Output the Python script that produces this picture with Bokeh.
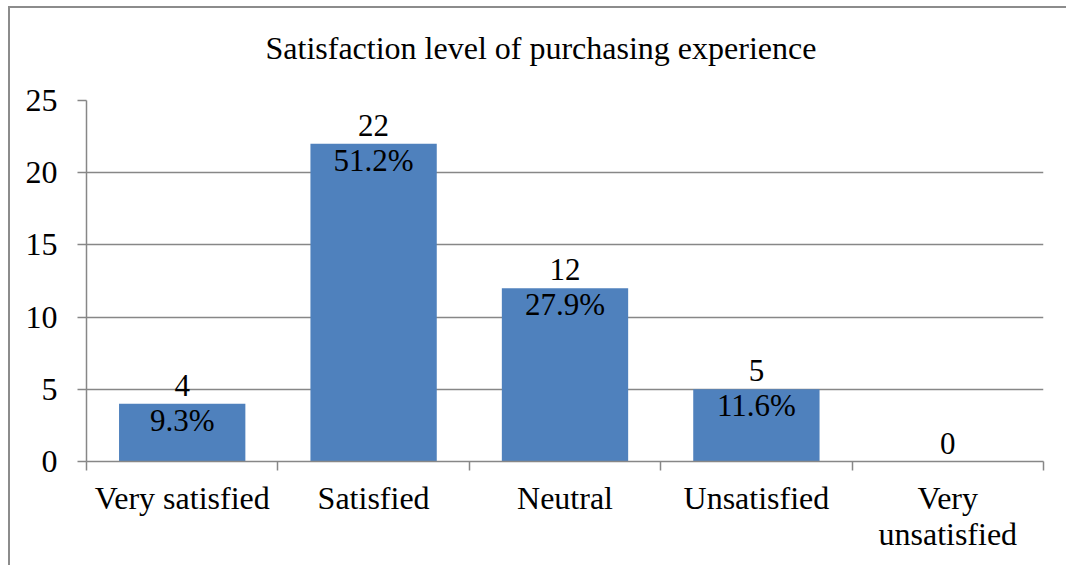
from bokeh.plotting import figure
from bokeh.models import Range1d, FixedTicker, ColumnDataSource, Title
from bokeh.core.properties import value
from bokeh.embed import file_html
from bokeh.resources import INLINE

categories = ["Very satisfied", "Satisfied", "Neutral", "Unsatisfied", "Very\nunsatisfied"]
counts = [4, 22, 12, 5, 0]
percent_labels = ["9.3%", "51.2%", "27.9%", "11.6%", ""]
y_ticks = [0, 5, 10, 15, 20, 25]
title_text = "Satisfaction level of purchasing experience"

FONT = "Liberation Serif"
GRID = "#878787"
BAR = "#4F81BD"

n = len(categories)
centers = [i + 0.5 for i in range(n)]
bounds = [float(i) for i in range(n + 1)]

src = ColumnDataSource(dict(
    x=centers, top=counts,
    count_txt=[str(c) for c in counts],
    pct_txt=percent_labels,
))

p = figure(width=1058, height=559, output_backend="svg", toolbar_location=None,
           x_range=Range1d(0, n), y_range=Range1d(0, max(y_ticks)),
           min_border_left=76, min_border_right=25, min_border_top=92,
           min_border_bottom=106,
           styles={"margin-left": "8px", "margin-top": "6px",
                   "border-left": "2px solid #8c8c8c",
                   "border-top": "2px solid #8c8c8c"})
p.title = None
# spacer between the frame and the title
spacer = Title(text=" ", text_font=FONT, text_font_size="1px",
               text_color="white", standoff=32)
p.add_layout(spacer, "above")
t = Title(text=title_text, text_font=FONT, text_font_size="32px",
          text_font_style="normal", text_color="black", align="left",
          standoff=0, offset=179)
p.add_layout(t, "above")

p.outline_line_color = None
p.background_fill_color = "white"
p.border_fill_color = "white"

p.vbar(x="x", top="top", width=0.66, bottom=0, source=src,
       fill_color=BAR, line_color=None)

p.text(x="x", y="top", text="count_txt", source=src, text_align="center",
       text_baseline="bottom", y_offset=-8, text_font=value(FONT),
       text_font_size="31px", text_color="black")
p.text(x="x", y="top", text="pct_txt", source=src, text_align="center",
       text_baseline="top", y_offset=-1, text_font=value(FONT),
       text_font_size="31px", text_color="black")

# x axis
xa = p.xaxis[0]
xa.ticker = FixedTicker(ticks=centers, minor_ticks=bounds)
xa.major_label_overrides = {c: lab for c, lab in zip(centers, categories)}
xa.major_tick_out = 0
xa.major_tick_in = 0
xa.minor_tick_out = 9
xa.minor_tick_in = 0
xa.minor_tick_line_color = GRID
xa.minor_tick_line_width = 1.5
xa.axis_line_color = GRID
xa.axis_line_width = 1.5
xa.major_label_text_font = FONT
xa.major_label_text_font_size = "32px"
xa.major_label_text_line_height = 1.0
xa.major_label_text_color = "black"
xa.major_label_standoff = 9

# y axis
ya = p.yaxis[0]
ya.ticker = FixedTicker(ticks=y_ticks)
ya.major_tick_out = 9
ya.major_tick_in = 0
ya.minor_tick_out = 0
ya.minor_tick_in = 0
ya.major_tick_line_color = GRID
ya.major_tick_line_width = 1.5
ya.axis_line_color = GRID
ya.axis_line_width = 1.5
ya.major_label_text_font = FONT
ya.major_label_text_font_size = "32px"
ya.major_label_text_color = "black"
ya.major_label_standoff = 20

p.xgrid.visible = False
p.ygrid.ticker = FixedTicker(ticks=y_ticks)
p.ygrid.grid_line_color = GRID
p.ygrid.grid_line_width = 1.5

open("out.html", "w").write(file_html(p, INLINE))
